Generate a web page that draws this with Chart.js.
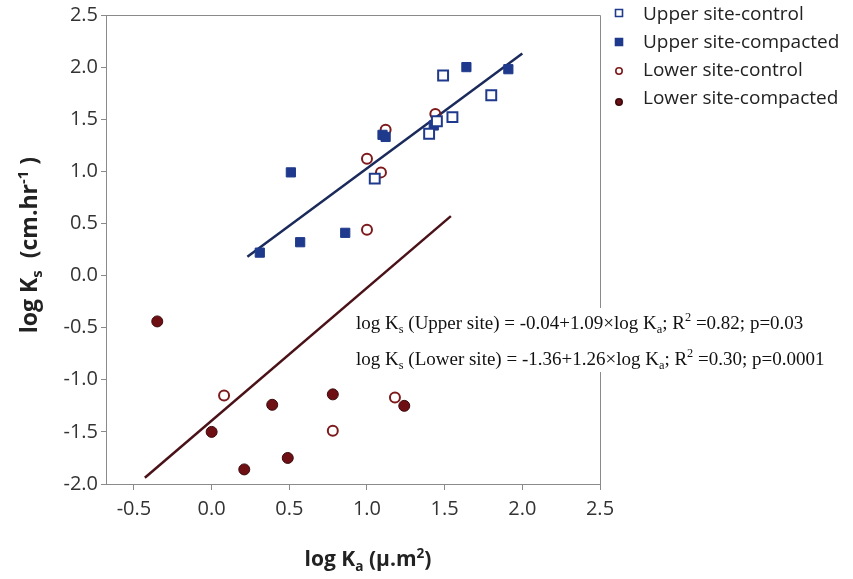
<!DOCTYPE html>
<html><head><meta charset="utf-8">
<script src="https://cdn.jsdelivr.net/npm/chart.js@4/dist/chart.umd.min.js"></script>
<style>html,body{margin:0;padding:0;background:#fff}#wrap{width:853px;height:579px;position:relative}canvas{display:block}</style>
</head><body><div id="wrap"><canvas id="c" width="853" height="579" style="width:853px;height:579px"></canvas></div>
<script>
// ---- data ----
const upperControlX = [1.05, 1.40, 1.45, 1.49, 1.55, 1.80];
const upperControlY = [0.93, 1.36, 1.48, 1.92, 1.52, 1.73];
const upperCompactedX = [0.31, 0.51, 0.57, 0.86, 1.10, 1.12, 1.43, 1.64, 1.91];
const upperCompactedY = [0.22, 0.99, 0.32, 0.41, 1.35, 1.33, 1.44, 2.00, 1.98];
const lowerControlX = [1.00, 1.09, 1.12, 1.00, 1.44, 0.08, 0.78, 1.18];
const lowerControlY = [1.12, 0.99, 1.40, 0.44, 1.55, -1.15, -1.49, -1.17];
const lowerCompactedX = [-0.35, 0.00, 0.21, 0.39, 0.49, 0.78, 1.24];
const lowerCompactedY = [-0.44, -1.50, -1.86, -1.24, -1.75, -1.14, -1.25];
const upperFitX = [0.23, 2.00];
const upperFitY = [0.18, 2.13];
const lowerFitX = [-0.43, 1.54];
const lowerFitY = [-1.94, 0.57];
const xTicks = [-0.5, 0.0, 0.5, 1.0, 1.5, 2.0, 2.5];
const yTicks = [-2.0, -1.5, -1.0, -0.5, 0.0, 0.5, 1.0, 1.5, 2.0, 2.5];
const seriesNames = ['Upper site-control', 'Upper site-compacted', 'Lower site-control', 'Lower site-compacted'];
const eqUpper = [['log K'], ['s', 'sub'], [' (Upper site) = -0.04+1.09×log K'], ['a', 'sub'], ['; R'], ['2', 'sup'], [' =0.82; p=0.03']];
const eqLower = [['log K'], ['s', 'sub'], [' (Lower site) = -1.36+1.26×log K'], ['a', 'sub'], ['; R'], ['2', 'sup'], [' =0.30; p=0.0001']];
const yTitle = [['log K'], ['s', 'sub'], ['  (cm.hr'], ['-1', 'sup'], [' )']];
const xTitle = [['log K'], ['a', 'sub'], [' (µ.m'], ['2', 'sup'], [')']];

const pts = (xs, ys) => xs.map((x, i) => ({x, y: ys[i]}));

const BLUE = '#1f3a8c', BLUE_LINE = '#1a2a5a', RED = '#7c1a1c', RED_FILL = '#6e0f14', RED_LINE = '#4a1218';

function drawRich(ctx, parts, x, y, size, family, weight, align) {
  const fontFor = (p) => {
    const s = p[1] ? size * 0.65 : size;
    return (weight || '') + ' ' + s + 'px ' + family;
  };
  let total = 0;
  parts.forEach(p => { ctx.font = fontFor(p); total += ctx.measureText(p[0]).width; });
  let cx = align === 'center' ? x - total / 2 : x;
  ctx.textBaseline = 'alphabetic';
  ctx.textAlign = 'left';
  parts.forEach(p => {
    ctx.font = fontFor(p);
    let dy = 0;
    if (p[1] === 'sub') dy = size * 0.22;
    if (p[1] === 'sup') dy = -size * 0.4;
    ctx.fillText(p[0], cx, y + dy);
    cx += ctx.measureText(p[0]).width;
  });
  return total;
}

const decor = {
  id: 'decor',
  afterDraw(chart) {
    const ctx = chart.ctx, a = chart.chartArea;
    ctx.save();
    // frame
    ctx.strokeStyle = '#8a8a8a';
    ctx.lineWidth = 1;
    ctx.beginPath();
    ctx.moveTo(a.left, a.top + 0.5); ctx.lineTo(a.right + 0.5, a.top + 0.5); ctx.lineTo(a.right + 0.5, a.bottom);
    ctx.stroke();
    // equations
    ctx.fillStyle = '#fff';
    ctx.fillRect(352, 308, 480, 64);
    ctx.fillStyle = '#111';
    drawRich(ctx, eqUpper, 356, 329, 19, '"Liberation Serif", serif', '', 'left');
    drawRich(ctx, eqLower, 356, 365, 19, '"Liberation Serif", serif', '', 'left');
    // axis titles
    ctx.fillStyle = '#222';
    drawRich(ctx, xTitle, 368, 566, 21, '"Open Sans", sans-serif', 'bold', 'center');
    ctx.save();
    ctx.translate(37, 245);
    ctx.rotate(-Math.PI / 2);
    drawRich(ctx, yTitle, 0, 0, 23, '"Open Sans", sans-serif', 'bold', 'center');
    ctx.restore();
    // legend
    const rows = [15, 43, 71, 99];
    const mk = [13, 42, 71, 102];
    chart.data.datasets.slice(0, 4).forEach((ds, i) => {
      const mx = 619, my = mk[i];
      ctx.lineWidth = 1.6;
      ctx.strokeStyle = ds.borderColor;
      ctx.fillStyle = ds.backgroundColor;
      ctx.beginPath();
      if (ds.pointStyle === 'rect') ctx.rect(mx - 3.5, my - 3.5, 7, 7);
      else ctx.arc(mx, my, 3.2, 0, Math.PI * 2);
      ctx.fill(); ctx.stroke();
      ctx.fillStyle = '#222';
      ctx.font = '19px "Open Sans", sans-serif';
      ctx.textBaseline = 'middle';
      ctx.textAlign = 'left';
      ctx.fillText(seriesNames[i], 643, rows[i]);
    });
    ctx.restore();
  }
};

new Chart(document.getElementById('c'), {
  type: 'scatter',
  data: {
    datasets: [
      {label: seriesNames[0], data: pts(upperControlX, upperControlY), pointStyle: 'rect', pointRadius: 7, pointHoverRadius: 7,
       backgroundColor: '#ffffff', borderColor: BLUE, borderWidth: 2},
      {label: seriesNames[1], data: pts(upperCompactedX, upperCompactedY), pointStyle: 'rect', pointRadius: 6.5, pointHoverRadius: 6.5,
       backgroundColor: BLUE, borderColor: BLUE, borderWidth: 1},
      {label: seriesNames[2], data: pts(lowerControlX, lowerControlY), pointStyle: 'circle', pointRadius: 5, pointHoverRadius: 5,
       backgroundColor: 'rgba(255,255,255,0)', borderColor: RED, borderWidth: 2},
      {label: seriesNames[3], data: pts(lowerCompactedX, lowerCompactedY), pointStyle: 'circle', pointRadius: 5.5, pointHoverRadius: 5.5,
       backgroundColor: RED_FILL, borderColor: '#3c0a0c', borderWidth: 1},
      {type: 'line', label: 'Upper fit', data: pts(upperFitX, upperFitY), borderColor: BLUE_LINE, borderWidth: 2.5, pointRadius: 0, fill: false, order: 5},
      {type: 'line', label: 'Lower fit', data: pts(lowerFitX, lowerFitY), borderColor: RED_LINE, borderWidth: 2.5, pointRadius: 0, fill: false, order: 5}
    ]
  },
  options: {
    responsive: false,
    maintainAspectRatio: false,
    animation: false,
    devicePixelRatio: 1,
    layout: {padding: {left: 0, right: 253, top: 13, bottom: 0}},
    plugins: {legend: {display: false}, tooltip: {enabled: false}},
    scales: {
      x: {
        type: 'linear', min: -0.68, max: 2.5,
        afterBuildTicks: s => { s.ticks = xTicks.map(v => ({value: v})); },
        afterFit: s => { s.height = 95; },
        grid: {display: true, drawOnChartArea: false, drawTicks: true, tickLength: 6, color: '#8a8a8a'},
        border: {display: true, color: '#8a8a8a', width: 1},
        ticks: {color: '#333', padding: 7, font: {family: '"Open Sans", sans-serif', size: 20}, maxRotation: 0,
                callback: v => Number(v).toFixed(1)}
      },
      y: {
        type: 'linear', min: -2.0, max: 2.5,
        afterBuildTicks: s => { s.ticks = yTicks.map(v => ({value: v})); },
        afterFit: s => { s.width = 106; },
        grid: {display: true, drawOnChartArea: false, drawTicks: true, tickLength: 5, color: '#8a8a8a'},
        border: {display: true, color: '#8a8a8a', width: 1},
        ticks: {color: '#333', padding: 3, font: {family: '"Open Sans", sans-serif', size: 20},
                callback: v => Number(v).toFixed(1)}
      }
    }
  },
  plugins: [decor]
});
</script>
</body></html>
